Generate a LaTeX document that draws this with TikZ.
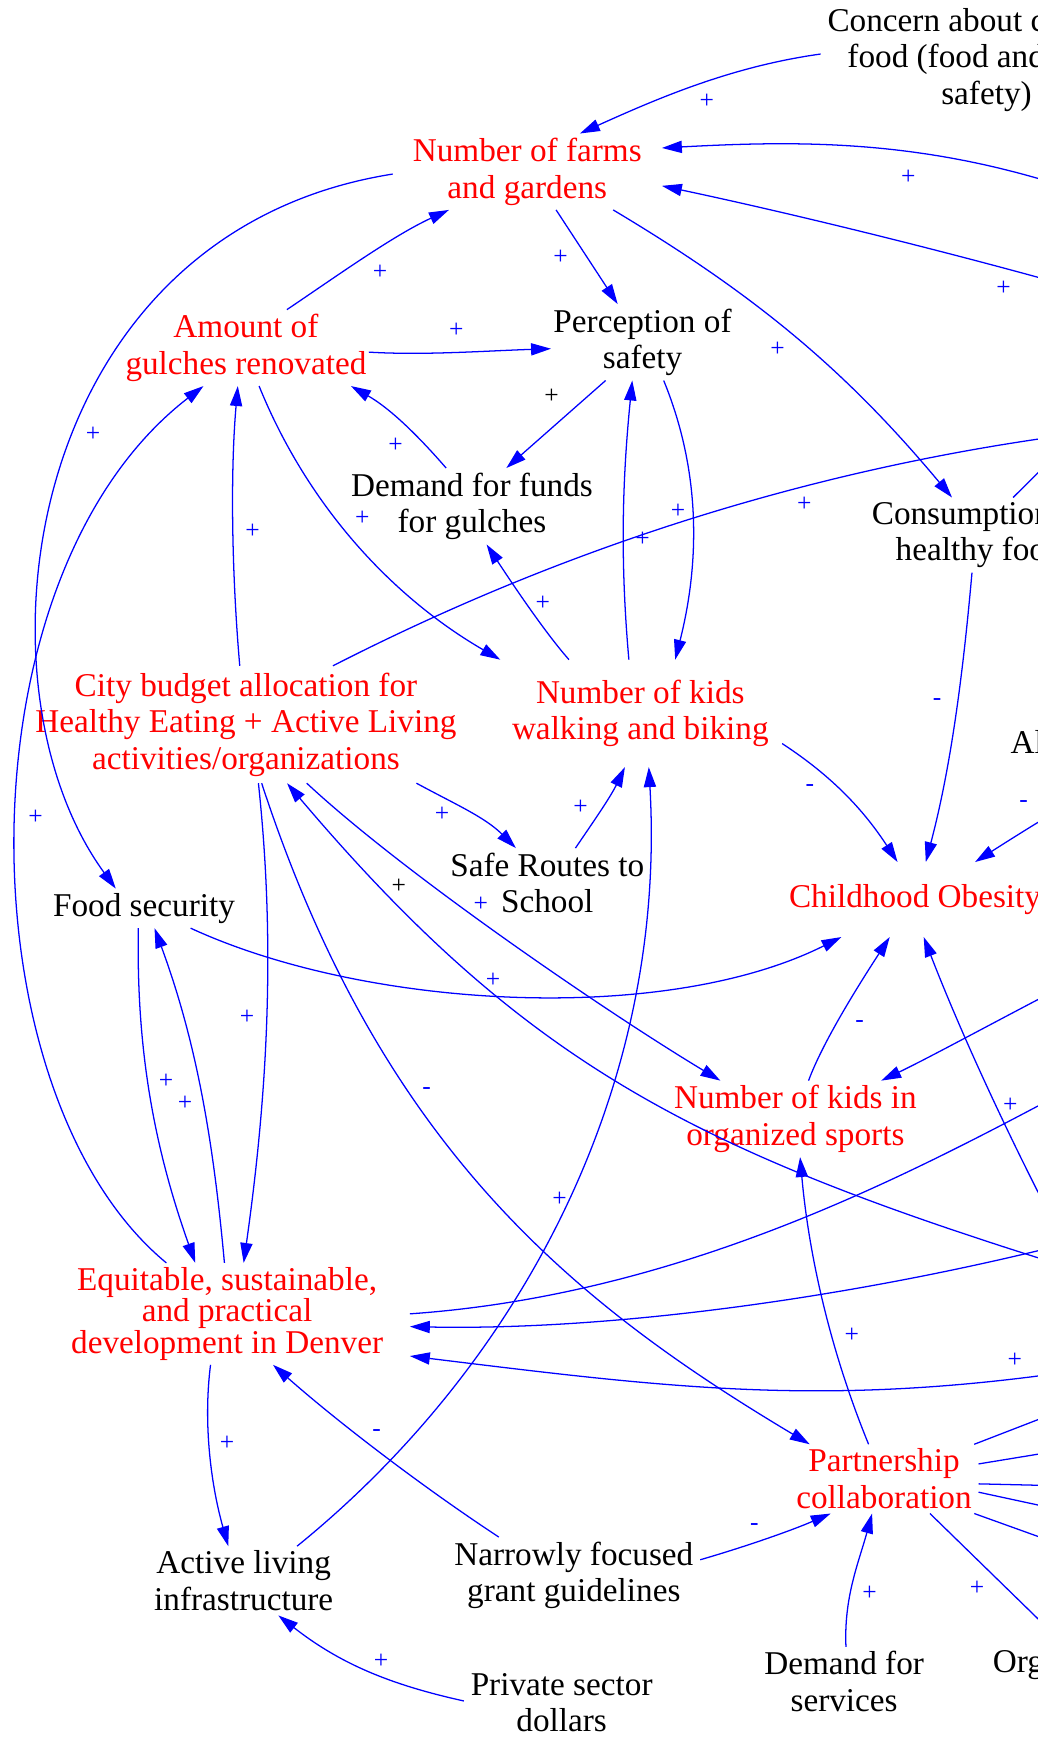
\documentclass[tikz,border=0pt]{standalone}
\usepackage{fontspec}
\setmainfont{Liberation Serif}
\usetikzlibrary{arrows.meta}
\begin{document}
\begin{tikzpicture}[x=1pt,y=-1pt,
  nd/.style={font=\fontsize{30}{33}\selectfont, align=center, inner xsep=6pt, inner ysep=4pt},
  rd/.style={nd, text=red},
  bk/.style={nd, text=black},
  cut/.style={font=\fontsize{30}{33}\selectfont, inner sep=0pt, anchor=base west},
  link/.style={draw=blue, line width=1.15pt, -{Triangle[length=18pt,width=11pt]}},
  lbl/.style={font=\fontsize{23}{23}\selectfont, text=blue, inner sep=0pt},
  lblk/.style={lbl, text=black}]
\useasboundingbox (0,0) rectangle (937,1568);
\fill[white] (0,0) rectangle (937,1568);
\clip (0,0) rectangle (937,1568);

% nodes
\node[rd, inner xsep=18pt] (farms) at (476,155) {Number of farms\\and gardens};
\node[bk] (concern) at (890.5,54) {\makebox[287pt][l]{Concern about c}\\\makebox[251pt][l]{food (food and}\\safety)};
\node[rd, inner xsep=2pt] (gulches) at (222,314) {Amount of\\gulches renovated};
\node[bk, inner xsep=2pt] (perception) at (580,309) {Perception of\\safety};
\node[bk] (dfunds) at (426,457) {Demand for funds\\for gulches};
\node[bk] (consumption) at (884,483) {\makebox[194pt][l]{Consumption}\\\makebox[151pt][l]{healthy foo}};
\node[rd, inner xsep=12pt, inner ysep=18pt] (walking) at (578,644) {Number of kids\\walking and biking};
\node[rd, inner ysep=6pt] (budget) at (222,654) {City budget allocation for\\Healthy Eating + Active Living\\activities/organizations};
\node[bk] (saferoutes) at (494,797) {Safe Routes to\\School};
\node[bk] (foodsec) at (130,820) {Food security};
\node[rd, inner ysep=20pt] (obesity) at (826,812) {Childhood Obesity};
\node[cut] (al) at (912,680) {Al};
\node[rd] (sports) at (718,1010) {Number of kids in\\organized sports};
\node[rd, inner xsep=24pt, font=\fontsize{30}{26}\selectfont] (equitable) at (205,1186) {Equitable, sustainable,\\and practical\\development in Denver};
\node[rd] (partnership) at (798,1335) {Partnership\\collaboration};
\node[bk] (active) at (220,1427) {Active living\\infrastructure};
\node[bk] (narrow) at (518,1422) {Narrowly focused\\grant guidelines};
\node[bk] (private) at (507,1537) {Private sector\\dollars};
\node[bk] (dserv) at (762,1518) {Demand for\\services};
\node[cut] (org) at (896,1510) {Org};

% off-page ends
\coordinate (r2) at (1000,182);
\coordinate (r3) at (1000,268);
\coordinate (r17) at (1000,388);
\coordinate (r22) at (990,712);
\coordinate (r25) at (1000,1155);
\coordinate (r26) at (990,875);
\coordinate (r27) at (965,1130);
\coordinate (r28) at (1000,965);
\coordinate (r29) at (1000,1113);
\coordinate (r30) at (1000,1233);
\coordinate (r35) at (975,389);
\coordinate (pa) at (990,1261);
\coordinate (pb) at (990,1304);
\coordinate (pc) at (990,1342);
\coordinate (pd) at (990,1370);
\coordinate (pe) at (990,1406);
\coordinate (pf) at (990,1513);

% connectors
\draw[link] (concern.178) .. controls +(-79,11) and +(73,-33) .. (farms.36);
\draw[link] (r2) .. controls +(-152,-57) and +(130,-7) .. (farms.10);
\draw[link] (r3) .. controls +(-125,-36) and +(127,27) .. (farms.-6);
\draw[link] (farms.-24) .. controls +(129,77) and +(-96,-115) .. (consumption.126);
\draw[link] (farms.-53) -- (perception.123);
\draw[link] (farms.181) .. controls +(-335,53) and +(-135,-185) .. (foodsec.145);
\draw[link] (gulches.43) .. controls +(46,-31) and +(-50,23) .. (farms.206);
\draw[link] (gulches.-2) .. controls +(50,3) and +(-60,2) .. (perception.184);
\draw[link] (dfunds.124) .. controls +(-26,-30) and +(35,20) .. (gulches.-20);
\draw[link] (perception.226) -- (dfunds.48);
\draw[link] (walking.102) .. controls +(-8,-90) and +(-9,90) .. (perception.-105);
\draw[link] (perception.-61) .. controls +(34,83) and +(22,-87) .. (walking.57);
\draw[link] (walking.143) .. controls +(-23,-26) and +(19,29) .. (dfunds.-69);
\draw[link] (gulches.-71) .. controls +(45,111) and +(-95,-55) .. (walking.159);
\draw[link] (budget.96) .. controls +(-7,-80) and +(-7,80) .. (gulches.-102);
\draw[link] (equitable.140) .. controls +(-183,-151) and +(-224,173) .. (gulches.222);
\draw[link] (budget.34) .. controls +(223,-114) and +(-248,31) .. (r17);
\draw[link] (budget.-19) .. controls +(35,19) and +(-28,-28) .. (saferoutes.132);
\draw[link] (saferoutes.51) .. controls +(17,-25) and +(-13,27) .. (walking.254);
\draw[link] (walking.-12) .. controls +(46,30) and +(-30,-46) .. (obesity.115);
\draw[link] (consumption.-101) .. controls +(-8,90) and +(23,-87) .. (obesity.74);
\draw[link] (r22) .. controls +(-30,15) and +(25,-16) .. (obesity.32);
\draw[link] (foodsec.-23) .. controls +(158,73) and +(-160,80) .. (obesity.207);
\draw[link] (budget.-44) .. controls +(88,82) and +(-103,-62) .. (sports.153);
\draw[link] (r25) .. controls +(-363,-111) and +(222,262) .. (budget.-55);
\draw[link] (r26) .. controls +(-60,30) and +(50,-24) .. (sports.24);
\draw[link] (r27) .. controls +(-47,-88) and +(36,93) .. (obesity.-77);
\draw[link] (equitable.0) .. controls +(259,-18) and +(-159,84) .. (r28);
\draw[link] (r29) .. controls +(-193,52) and +(200,4) .. (equitable.-4);
\draw[link] (r30) .. controls +(-244,39) and +(245,30) .. (equitable.-13);
\draw[link] (budget.-75) .. controls +(107,327) and +(-216,-129) .. (partnership.155);
\draw[link] (budget.-78) .. controls +(16,149) and +(21,-149) .. (equitable.72);
\draw[link] (foodsec.-106) .. controls +(-2,110) and +(-37,-104) .. (equitable.122);
\draw[link] (equitable.93) .. controls +(-10,-110) and +(38,103) .. (foodsec.-62);
\draw[link] (equitable.-108) .. controls +(-7,55) and +(-15,-53) .. (active.114);
\draw[link] (active.33) .. controls +(195,-158) and +(17,297) .. (walking.-81);
\draw[link] (narrow.153) .. controls +(-67,-44) and +(60,53) .. (equitable.-48);
\draw[link] (private.179) .. controls +(-68,-15) and +(55,43) .. (active.-45);
\draw[link] (narrow.7) .. controls +(38,-11) and +(-37,16) .. (partnership.213);
\draw[link] (dserv.87) .. controls +(-2,-45) and +(-12,44) .. (partnership.-109);
\draw[link] (partnership.114) .. controls +(-34,-83) and +(8,90) .. (sports.-83);
\draw[link] (sports.71) .. controls +(14,-38) and +(-22,34) .. (obesity.236);
\draw[link] (consumption.48) -- (r35);
\draw[link] (partnership.21) -- (pa);
\draw[link] (partnership.9) -- (pb);
\draw[link] (partnership.-3) -- (pc);
\draw[link] (partnership.-8) -- (pd);
\draw[link] (partnership.-21) -- (pe);
\draw[link] (partnership.-37) -- (pf);

% labels
\node[lbl] at (638,91) {+};
\node[lbl] at (820,160) {+};
\node[lbl] at (906,260) {+};
\node[lbl] at (343,246) {+};
\node[lbl] at (506,232) {+};
\node[lbl] at (412,298) {+};
\node[lbl] at (702,315) {+};
\node[lblk] at (498,358) {+};
\node[lbl] at (357,402) {+};
\node[lbl] at (84,392) {+};
\node[lbl] at (327,468) {+};
\node[lbl] at (228,480) {+};
\node[lbl] at (612,462) {+};
\node[lbl] at (580,487) {+};
\node[lbl] at (726,455) {+};
\node[lbl] at (490,545) {+};
\node[lbl] at (846,634) {-};
\node[lbl] at (731,711) {-};
\node[lbl] at (924,726) {-};
\node[lbl] at (399,735) {+};
\node[lbl] at (524,729) {+};
\node[lbl] at (32,738) {+};
\node[lblk] at (360,800) {+};
\node[lbl] at (434,816) {+};
\node[lbl] at (445,885) {+};
\node[lbl] at (223,918) {+};
\node[lbl] at (776,924) {-};
\node[lbl] at (150,976) {+};
\node[lbl] at (167,996) {+};
\node[lbl] at (385,985) {-};
\node[lbl] at (912,998) {+};
\node[lbl] at (505,1083) {+};
\node[lbl] at (769,1205) {+};
\node[lbl] at (916,1228) {+};
\node[lbl] at (205,1303) {+};
\node[lbl] at (340,1294) {-};
\node[lbl] at (681,1378) {-};
\node[lbl] at (882,1434) {+};
\node[lbl] at (785,1438) {+};
\node[lbl] at (344,1500) {+};
\end{tikzpicture}
\end{document}
